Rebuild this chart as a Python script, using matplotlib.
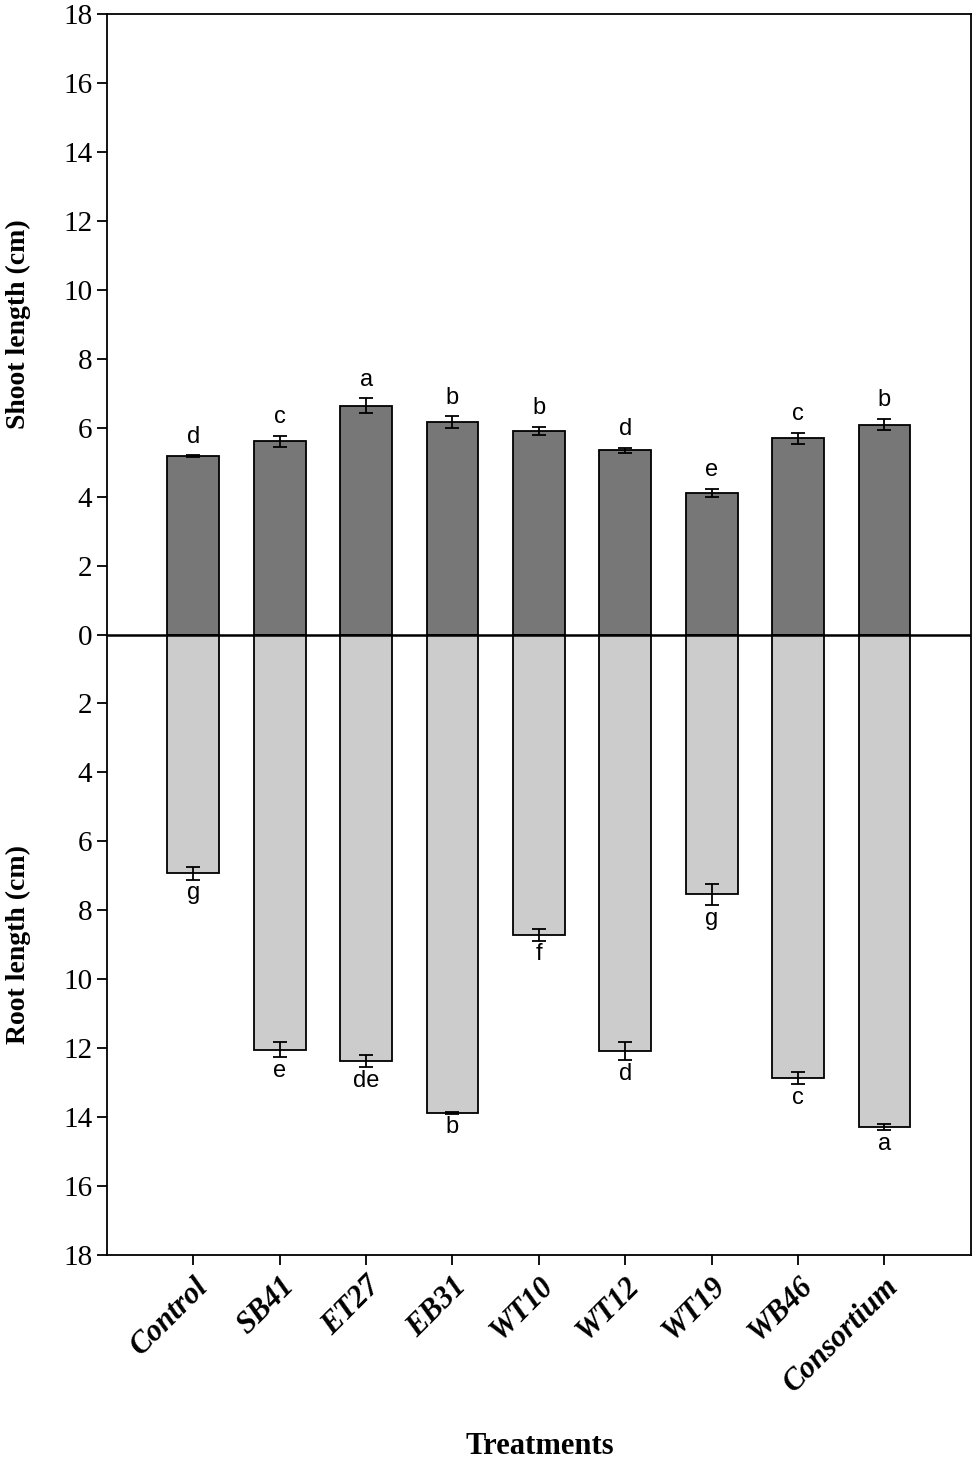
import numpy as np
import matplotlib
matplotlib.use("Agg")
import matplotlib.pyplot as plt

treatments = ["Control", "SB41", "ET27", "EB31", "WT10", "WT12", "WT19", "WB46", "Consortium"]
shoot = [5.17, 5.61, 6.64, 6.16, 5.91, 5.34, 4.11, 5.69, 6.09]
shoot_err = [0.03, 0.16, 0.22, 0.17, 0.12, 0.08, 0.12, 0.17, 0.17]
shoot_letters = ["d", "c", "a", "b", "b", "d", "e", "c", "b"]
root = [6.93, 12.04, 12.37, 13.87, 8.71, 12.08, 7.54, 12.86, 14.29]
root_err = [0.18, 0.21, 0.18, 0.03, 0.17, 0.27, 0.30, 0.18, 0.08]
root_letters = ["g", "e", "de", "b", "f", "d", "g", "c", "a"]
yticks = np.arange(-18, 19, 2)

serif = "Liberation Serif"
sans = "Liberation Sans"

fig = plt.figure(figsize=(9.75, 14.61), dpi=100)
ax = fig.add_axes([0.1097, 0.141, 0.886, 0.8494])

x = np.arange(len(treatments))
neg_root = -np.array(root)

# bars
ax.bar(x, shoot, width=0.6, color="#777777", edgecolor="black", linewidth=1.3, zorder=2)
ax.bar(x, neg_root, width=0.6, color="#cccccc", edgecolor="black", linewidth=1.3, zorder=2)
ax.errorbar(x, shoot, yerr=shoot_err, fmt="none", ecolor="black", elinewidth=1.3,
            capsize=5, capthick=1.3, zorder=3)
ax.errorbar(x, neg_root, yerr=root_err, fmt="none", ecolor="black", elinewidth=1.3,
            capsize=5, capthick=1.3, zorder=3)
ax.axhline(0, color="black", linewidth=1.8, zorder=4)

# letters
for i in range(len(x)):
    ax.annotate(shoot_letters[i], (x[i], shoot[i] + shoot_err[i]), xytext=(0, 9),
                textcoords="offset points", ha="center", va="baseline",
                fontsize=17, family=sans)
    ax.annotate(root_letters[i], (x[i], neg_root[i] - root_err[i]), xytext=(0, -2),
                textcoords="offset points", ha="center", va="top",
                fontsize=17, family=sans)

ax.set_xlim(-1, 9)
ax.set_ylim(-18, 18)
ax.set_yticks(yticks)
ax.set_yticklabels([str(abs(v)) for v in yticks], family=serif, fontsize=21)
ax.set_xticks(x)
ax.set_xticklabels(treatments, rotation=45, ha="right", rotation_mode="anchor",
                   family=serif, fontsize=22, fontweight="bold", fontstyle="italic")
ax.tick_params(axis="both", direction="out", length=7, width=1.3)
ax.tick_params(axis="x", pad=5)
for s in ax.spines.values():
    s.set_linewidth(1.3)

ax.text(-0.103, 9, "Shoot length (cm)", transform=ax.get_yaxis_transform(), rotation=90,
        ha="center", va="center", family=serif, fontsize=20, fontweight="bold")
ax.text(-0.103, -9, "Root length (cm)", transform=ax.get_yaxis_transform(), rotation=90,
        ha="center", va="center", family=serif, fontsize=20, fontweight="bold")
fig.text(0.554, 0.0096, "Treatments", ha="center", va="center", family=serif,
         fontsize=22, fontweight="bold")

fig.savefig("out.png", dpi=100)
